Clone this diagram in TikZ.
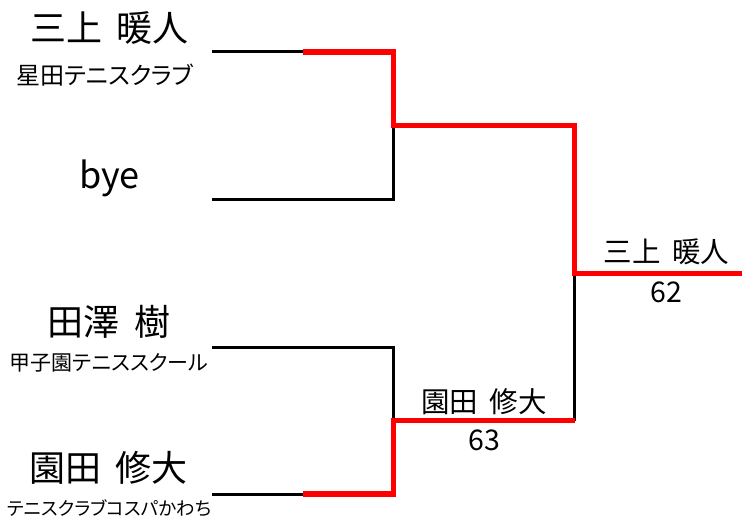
\documentclass[tikz,border=0pt]{standalone}
\usepackage{fontspec}
\newfontfamily\jpfont[RawFeature=+palt]{Noto Sans CJK JP}
\usetikzlibrary{positioning,calc}
\newcommand{\gap}{\hspace{0.4em}}

\begin{document}
\begin{tikzpicture}[x=1pt, y=-1pt,
    player/.style={font=\jpfont\fontsize{36}{40}\selectfont, inner sep=0pt},
    club/.style={font=\jpfont\fontsize{#1}{24}\selectfont, inner sep=0pt},
    result/.style={font=\jpfont\fontsize{28.5}{32}\selectfont, inner sep=0pt},
    lose/.style={line width=3pt, black},
    win/.style={line width=5.5pt, red}
]
\useasboundingbox (0,0) rectangle (742,521);

% Entry lines
\foreach \i/\y in {1/52,2/200,3/348,4/494} {
    \coordinate (e\i) at (212,\y);
    \coordinate (j\i) at (393.5,\y);
}
\coordinate (s1) at (393.5,125.5);
\coordinate (s2) at (393.5,420.5);
\coordinate (f1) at (574.5,125.5);
\coordinate (f2) at (574.5,420.5);
\coordinate (fin) at (574.5,273.5);
\coordinate (champ) at (742,273.5);

% Players
\node[player] (P1) at (109.5,28) {三上\gap 暖人};
\node[club=24] (C1) at (105,75) {星田テニスクラブ};
\node[player] (P2) at (109.5,178) {bye};
\node[player] (P3) at (109,322) {田澤\gap 樹};
\node[club=21] (C3) at (109,363) {甲子園テニススクール};
\node[player] (P4) at (108.5,468) {園田\gap 修大};
\node[club=18.5] (C4) at (109.5,508) {テニスクラブコスパかわち};

% Bracket
\draw[lose] (e1) -- (j1) -- (j2) -- (e2);
\draw[lose] (e3) -- (j3) -- (j4) -- (e4);
\draw[lose] (f1) -- (f2);

% Winners
\draw[win] ($(e1)!0.5!(j1)$) -- (j1) -- (s1) -- (f1) -- (fin) -- (champ);
\draw[win] ($(e4)!0.5!(j4)$) -- (j4) -- (s2) -- (f2);

% Results
\path (fin) -- (champ)
    node[result, pos=0.55, above=8pt] (W1) {三上\gap 暖人}
    node[result, pos=0.55, below=8pt] (R1) {62};
\path (s2) -- (f2)
    node[result, midway, above=6pt] (W2) {園田\gap 修大}
    node[result, midway, below=9pt] (R2) {63};

\end{tikzpicture}
\end{document}
